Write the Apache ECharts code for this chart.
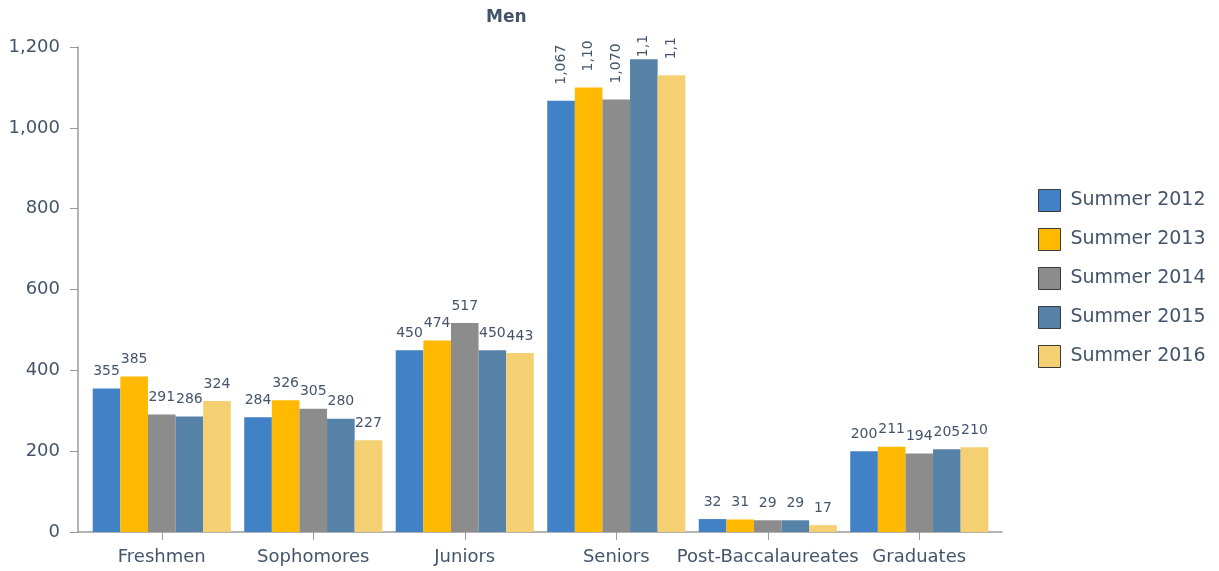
<!DOCTYPE html>
<html>
<head>
<meta charset="utf-8">
<script src="https://cdn.jsdelivr.net/npm/echarts@6/dist/echarts.min.js"></script>
<style>
	html, body { margin: 0; padding: 0; background: #fff; }
	#chart { width: 1219px; height: 571px; }
</style>
</head>
<body>
<div id="chart"></div>
<script>
	// 分类与数据
	var categories = ['Freshmen', 'Sophomores', 'Juniors', 'Seniors', 'Post-Baccalaureates', 'Graduates'];
	var seriesNames = ['Summer 2012', 'Summer 2013', 'Summer 2014', 'Summer 2015', 'Summer 2016'];
	var summer2012 = [355, 284, 450, 1067, 32, 200];
	var summer2013 = [385, 326, 474, 1100, 31, 211];
	var summer2014 = [291, 305, 517, 1070, 29, 194];
	var summer2015 = [286, 280, 450, 1170, 29, 205];
	var summer2016 = [324, 227, 443, 1130, 17, 210];
	var yTicks = [0, 200, 400, 600, 800, 1000, 1200];

	var values = [summer2012, summer2013, summer2014, summer2015, summer2016];
	var colors = ['#4181c5', '#ffb900', '#8c8c8c', '#5682a8', '#f4d072'];
	var textColor = '#44546a';
	var font = 'DejaVu Sans';

	// Seniors 的标签竖排, 顶部被裁掉
	var seniorsIdx = categories.indexOf('Seniors');
	var rotatedLabel = [
		{ distance: 16 },
		{ distance: 16, width: 39 },
		{ distance: 16 },
		{ distance: 2, width: 28 },
		{ distance: 16, width: 28 }
	];

	function fmt(v) {
		return String(v).replace(/\B(?=(\d{3})+(?!\d))/g, ',');
	}

	var myChart = echarts.init(document.getElementById('chart'));

	var series = values.map(function (arr, si) {
		return {
			name: seriesNames[si],
			type: 'bar',
			xAxisIndex: 0,
			yAxisIndex: 0,
			barGap: '0%',
			barCategoryGap: '8.9%',
			itemStyle: { color: colors[si] },
			label: {
				show: true,
				position: 'top',
				distance: 10,
				color: textColor,
				fontFamily: font,
				fontSize: 14,
				formatter: function (p) { return fmt(p.value); }
			},
			data: arr.map(function (v, ci) {
				if (ci !== seniorsIdx) {
					return v;
				}
				var r = rotatedLabel[si];
				var lbl = {
					rotate: 90,
					align: 'left',
					verticalAlign: 'middle',
					distance: r.distance
				};
				if (r.width) {
					lbl.width = r.width;
					lbl.overflow = 'truncate';
					lbl.ellipsis = '';
				}
				return { value: v, label: lbl };
			})
		};
	});

	var option = {
		backgroundColor: '#fff',
		animation: false,
		title: {
			text: 'Men',
			left: 481,
			top: 4,
			textStyle: { color: textColor, fontFamily: font, fontSize: 17, fontWeight: 'bold' }
		},
		legend: {
			orient: 'vertical',
			left: 1033,
			top: 184,
			itemWidth: 22,
			itemHeight: 22,
			itemGap: 16,
			icon: 'rect',
			itemStyle: { borderColor: '#3a3a3a', borderWidth: 1 },
			textStyle: { color: textColor, fontFamily: font, fontSize: 19, padding: [0, 0, 0, 5] },
			data: seriesNames
		},
		grid: [
			{ left: 86, right: 224, top: 47, bottom: 39 },
			{ left: 78, right: 217, top: 47, bottom: 39 }
		],
		xAxis: [
			{
				type: 'category',
				gridIndex: 0,
				data: categories,
				axisLine: { show: false },
				axisTick: { show: true, alignWithLabel: true, length: 8, lineStyle: { color: '#9a9a9a' } },
				axisLabel: { interval: 0, margin: 16, color: textColor, fontFamily: font, fontSize: 18 }
			},
			{
				type: 'value',
				gridIndex: 1,
				min: 0,
				max: 1,
				axisLine: { show: true, lineStyle: { color: '#9a9a9a', width: 1.5 } },
				axisTick: { show: false },
				axisLabel: { show: false },
				splitLine: { show: false }
			}
		],
		yAxis: [
			{
				type: 'value',
				gridIndex: 0,
				min: yTicks[0],
				max: yTicks[yTicks.length - 1],
				interval: 200,
				show: false,
				splitLine: { show: false }
			},
			{
				type: 'value',
				gridIndex: 1,
				min: yTicks[0],
				max: yTicks[yTicks.length - 1],
				interval: yTicks[1] - yTicks[0],
				axisLine: { show: true, lineStyle: { color: '#9a9a9a', width: 1.5 } },
				axisTick: { show: true, length: 8, lineStyle: { color: '#9a9a9a' } },
				axisLabel: { margin: 18, color: textColor, fontFamily: font, fontSize: 18, formatter: function (v) { return fmt(v); } },
				splitLine: { show: false }
			}
		],
		series: series
	};

	myChart.setOption(option);
</script>
</body>
</html>
